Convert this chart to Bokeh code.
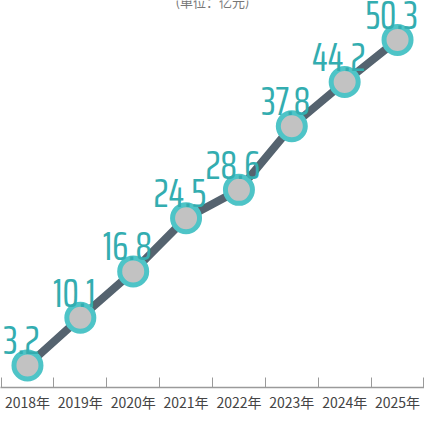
import numpy as np
from bokeh.plotting import figure
from bokeh.models import ColumnDataSource, FixedTicker, Range1d
from bokeh.core.properties import value
from bokeh.embed import file_html
from bokeh.resources import INLINE

# ---- data ----
years = ["2018年", "2019年", "2020年", "2021年", "2022年", "2023年", "2024年", "2025年"]
amounts = [3.2, 10.1, 16.8, 24.5, 28.6, 37.8, 44.2, 50.3]
amount_labels = ["3.2", "10.1", "16.8", "24.5", "28.6", "37.8", "44.2", "50.3"]
unit_title = "(单位：亿元)"

n = len(years)
xs = (np.arange(n) + 0.5).tolist()
src = ColumnDataSource(dict(x=xs, y=amounts, lab=amount_labels))

Y_END = 56.0
p = figure(width=424, height=414, output_backend="svg", toolbar_location=None,
           x_range=Range1d(-0.01, n + 0.01), y_range=Range1d(0, Y_END),
           min_border_left=0, min_border_right=0, min_border_top=0, min_border_bottom=22,
           background_fill_color="white", border_fill_color="white")
p.outline_line_color = None
p.xgrid.visible = False
p.ygrid.visible = False
p.yaxis.visible = False

ax = p.xaxis[0]
ax.ticker = FixedTicker(ticks=xs, minor_ticks=list(range(n + 1)))
ax.major_label_overrides = {x: y for x, y in zip(xs, years)}
ax.major_tick_line_color = None
ax.major_tick_in = 0
ax.major_tick_out = 0
ax.minor_tick_in = 10
ax.minor_tick_out = 0
ax.minor_tick_line_color = "#9a9a9a"
ax.minor_tick_line_width = 1
ax.axis_line_color = "#9a9a9a"
ax.axis_line_width = 1.5
ax.major_label_text_font = "Noto Sans CJK SC"
ax.major_label_text_font_size = "14px"
ax.major_label_text_color = "#444444"
ax.major_label_standoff = 4

# line
p.line("x", "y", source=src, line_color="#55636f", line_width=8)
# markers
p.scatter("x", "y", source=src, size=27, fill_color="#c2c2c2",
          line_color="#4ec4c7", line_width=5)
# value labels
p.text("x", "y", text="lab", source=src, text_align="center", text_baseline="alphabetic",
       x_offset=-6, y_offset=-25, text_color="#33adb0",
       text_font=value("'Saira ExtraCondensed', 'Sofia Sans Extra Condensed', sans-serif"),
       text_font_size="41px")
# unit title (mostly cut off at top)
p.text(x=[n / 2], y=[Y_END], text=[unit_title], text_align="center", text_baseline="middle",
       y_offset=1, text_color="#777777", text_font=value("Noto Sans CJK SC"),
       text_font_size="13px")

open("out.html", "w").write(file_html(p, INLINE))
